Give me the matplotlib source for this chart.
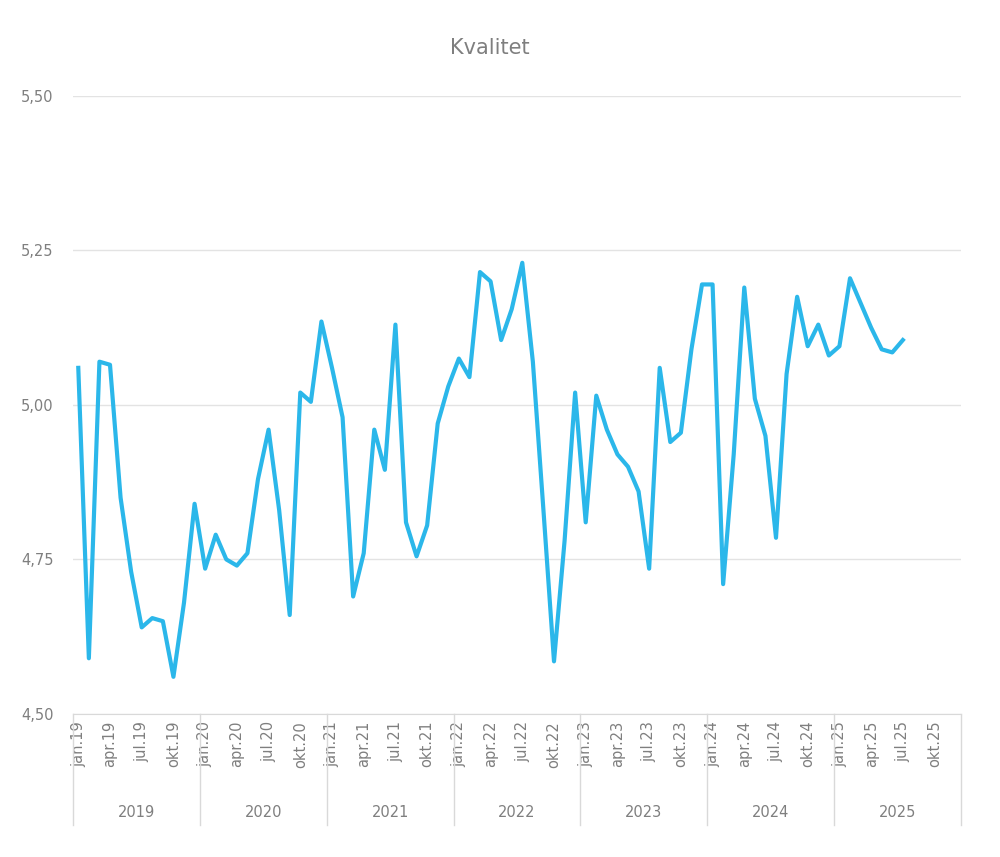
import matplotlib
matplotlib.use("Agg")
import matplotlib.pyplot as plt
from matplotlib.lines import Line2D

years = ["2019","2020","2021","2022","2023","2024","2025"]
months = ["jan","apr","jul","okt"]
values = [5.06,4.59,5.07,5.065,4.85,4.73,4.64,4.655,4.65,4.56,4.68,4.84,
          4.735,4.79,4.75,4.74,4.76,4.88,4.96,4.83,4.66,5.02,5.005,5.135,
          5.06,4.98,4.69,4.76,4.96,4.895,5.13,4.81,4.755,4.805,4.97,5.03,
          5.075,5.045,5.215,5.20,5.105,5.155,5.23,5.07,4.83,4.585,4.78,5.02,
          4.81,5.015,4.96,4.92,4.90,4.86,4.735,5.06,4.94,4.955,5.09,5.195,
          5.195,4.71,4.92,5.19,5.01,4.95,4.785,5.05,5.175,5.095,5.13,5.08,
          5.095,5.205,5.165,5.125,5.09,5.085,5.105]

fig = plt.figure(figsize=(10,8.57), dpi=100)
ax = fig.add_axes([0.073,0.167,0.888,0.721])
ax.plot(range(len(values)), values, color="#2BB7EA", lw=3.0, solid_joinstyle="round")
ax.set_xlim(-0.5, 83.5)
ax.set_ylim(4.5, 5.5)
yt = [4.5,4.75,5.0,5.25,5.5]
ax.set_yticks(yt)
ax.set_yticklabels([f"{v:.2f}".replace(".",",") for v in yt], color="#7f7f7f", fontsize=10.5)
ax.grid(axis="y", color="#e3e3e3", lw=1)
for s in ["left","right","top"]:
    ax.spines[s].set_visible(False)
ax.spines["bottom"].set_color("#d9d9d9")
ax.tick_params(axis="y", length=0, pad=14)
ticks = [y*12+m*3 for y in range(len(years)) for m in range(4)]
labels = [f"{months[m]}.{years[y][2:]}" for y in range(len(years)) for m in range(4)]
ax.set_xticks(ticks)
ax.set_xticklabels(labels, rotation=90, color="#7f7f7f", fontsize=10.5)
ax.tick_params(axis="x", length=0, pad=5)
ax.set_axisbelow(True)
for y in range(len(years)+1):
    x = (y*12)/84
    ax.add_line(Line2D([x,x],[0,-0.18], transform=ax.transAxes, color="#d9d9d9", lw=1, clip_on=False))
for y, yr in enumerate(years):
    ax.text((y*12+6)/84, -0.159, yr, transform=ax.transAxes, ha="center", va="center",
            color="#7f7f7f", fontsize=10.5)
fig.text(0.49, 0.944, "Kvalitet", ha="center", va="center", color="#7f7f7f", fontsize=15)
fig.savefig("out.png", dpi=100)
